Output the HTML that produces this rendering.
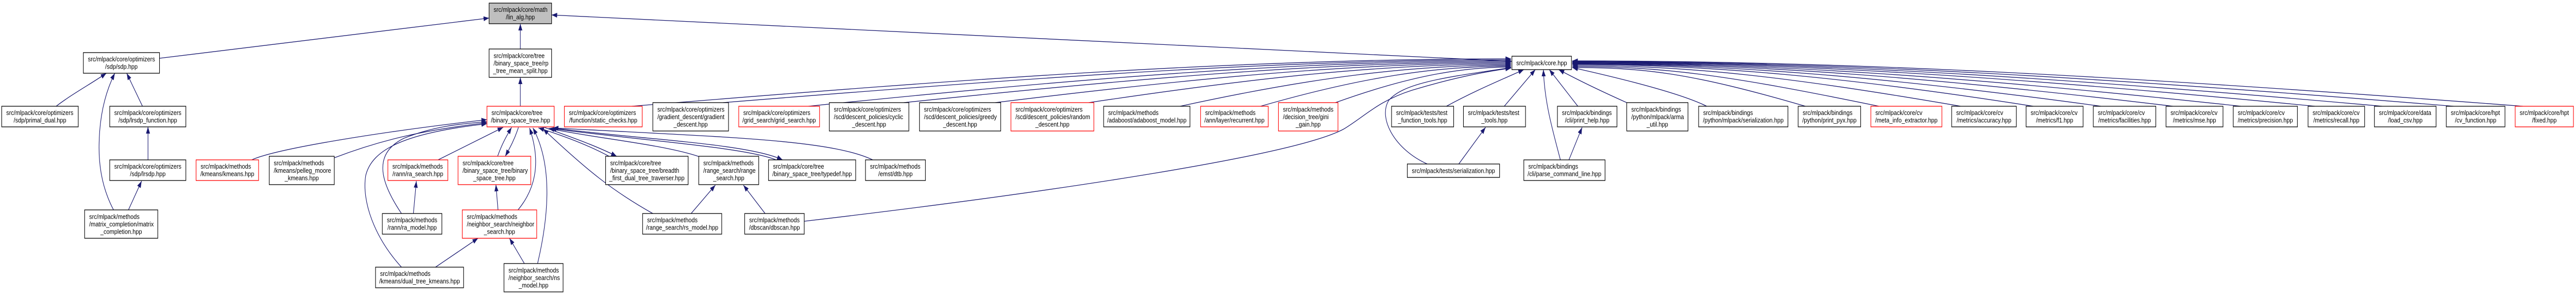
<!DOCTYPE html>
<html><head><meta charset="utf-8"><style>
html,body{margin:0;padding:0;background:#fff;width:100%;height:100%;overflow:hidden}
svg{display:block;width:100vw;height:100vh}
text{font-family:"Liberation Sans",Arial,Helvetica,sans-serif;font-size:13.33px;fill:#000}
.m{text-anchor:middle}
.n{fill:#fff;stroke:#000;stroke-width:1.33}
.r{fill:#fff;stroke:#f00;stroke-width:1.33}
.g{fill:#bfbfbf;stroke:#000;stroke-width:1.33}
.e path{fill:none;stroke:#191970;stroke-width:1.33}
</style></head><body>
<svg viewBox="0 0 6057 572" preserveAspectRatio="none" xmlns="http://www.w3.org/2000/svg">
<defs><marker id="a" markerWidth="14" markerHeight="10" refX="13" refY="4.7" orient="auto" markerUnits="userSpaceOnUse"><path d="M0,0 L13,4.7 L0,9.4 z" fill="#191970"/></marker></defs>
<g class="e">
<path d="M375,113 L1150,35" marker-end="url(#a)"/>
<path d="M1223.5,95 L1223.5,46" marker-end="url(#a)"/>
<path d="M3555,119 L1297,29" marker-end="url(#a)"/>
<path d="M1223.5,206 L1223.5,150" marker-end="url(#a)"/>
<path d="M132,206 C170,182 215,162 250,142" marker-end="url(#a)"/>
<path d="M267,407 C240,365 232,320 233,280 C234,220 250,175 270,142" marker-end="url(#a)"/>
<path d="M335,206 L298,142" marker-end="url(#a)"/>
<path d="M348,310 L348,246" marker-end="url(#a)"/>
<path d="M302,407 L333,351" marker-end="url(#a)"/>
<path d="M592,310 C650,288 900,255 1145,232" marker-end="url(#a)"/>
<path d="M786,306 C900,270 1000,252 1145,238" marker-end="url(#a)"/>
<path d="M944,414 C900,360 870,300 950,268 C1020,245 1080,240 1145,236" marker-end="url(#a)"/>
<path d="M944,518 C880,460 850,390 860,340 C875,290 950,258 1145,240" marker-end="url(#a)"/>
<path d="M1030,310 L1183,247" marker-end="url(#a)"/>
<path d="M1170,303 C1180,280 1190,265 1203,247" marker-end="url(#a)"/>
<path d="M1219,247 C1210,270 1200,285 1188,303" marker-end="url(#a)"/>
<path d="M1218,407 C1255,370 1275,320 1245,248" marker-end="url(#a)"/>
<path d="M1264,511 C1290,420 1300,320 1253,248" marker-end="url(#a)"/>
<path d="M1535,414 C1440,370 1380,330 1277,250" marker-end="url(#a)"/>
<path d="M1432,303 C1380,280 1320,262 1266,248" marker-end="url(#a)"/>
<path d="M1280,247 C1340,265 1400,282 1450,303" marker-end="url(#a)"/>
<path d="M1645,304 C1560,280 1400,268 1290,249" marker-end="url(#a)"/>
<path d="M1825,310 C1750,285 1500,272 1295,249" marker-end="url(#a)"/>
<path d="M1298,248 C1500,270 1760,278 1840,310" marker-end="url(#a)"/>
<path d="M2052,310 C1950,270 1700,266 1300,248" marker-end="url(#a)"/>
<path d="M1625,414 L1682,359" marker-end="url(#a)"/>
<path d="M1799,414 L1748,359" marker-end="url(#a)"/>
<path d="M1171,407 L1166,358" marker-end="url(#a)"/>
<path d="M972,414 L979,351" marker-end="url(#a)"/>
<path d="M1024,518 L1124,462" marker-end="url(#a)"/>
<path d="M1233,511 L1198,462" marker-end="url(#a)"/>
<path d="M1891,429 C2500,370 3050,300 3160,250 C3210,225 3240,196 3320,175 C3400,155 3480,140 3553,132" marker-end="url(#a)"/>
<path d="M3356,318 C3280,290 3240,230 3265,195 C3300,160 3400,150 3553,131" marker-end="url(#a)"/>
<path d="M3430,318 L3493,247" marker-end="url(#a)"/>
<path d="M3669,310 C3650,250 3632,200 3629,135" marker-end="url(#a)"/>
<path d="M3689,310 L3720,247" marker-end="url(#a)"/>
<path d="M3401,206 C3470,175 3530,155 3583,135" marker-end="url(#a)"/>
<path d="M3537,206 L3610,135" marker-end="url(#a)"/>
<path d="M3710,206 L3643,135" marker-end="url(#a)"/>
<path d="M3825,199 C3760,175 3710,155 3665,135" marker-end="url(#a)"/>
<path d="M4013,206 C3950,180 3800,150 3697,131" marker-end="url(#a)"/>
<path d="M1486,206 C2313,150 2933,114 3553,114" marker-end="url(#a)"/>
<path d="M1700,199 C2441,150 2997,116 3553,116" marker-end="url(#a)"/>
<path d="M1901,206 C2562,150 3057,118 3553,118" marker-end="url(#a)"/>
<path d="M2125,199 C2696,150 3125,120 3553,120" marker-end="url(#a)"/>
<path d="M2340,199 C2825,150 3189,122 3553,122" marker-end="url(#a)"/>
<path d="M2560,199 C2957,150 3255,124 3553,124" marker-end="url(#a)"/>
<path d="M2775,206 C3086,150 3320,126 3553,126" marker-end="url(#a)"/>
<path d="M2964,206 C3200,150 3376,128 3553,128" marker-end="url(#a)"/>
<path d="M3140,199 C3305,150 3429,130 3553,130" marker-end="url(#a)"/>
<path d="M4245,206 C3971,140 3861,131 3697,131" marker-end="url(#a)"/>
<path d="M4418,206 C4058,145 3913,129 3697,129" marker-end="url(#a)"/>
<path d="M4610,206 C4200,148 3971,127 3697,127" marker-end="url(#a)"/>
<path d="M4781,206 C4347,150 4022,125 3697,125" marker-end="url(#a)"/>
<path d="M4940,206 C4443,150 4070,124 3697,124" marker-end="url(#a)"/>
<path d="M5109,206 C4544,150 4121,123 3697,123" marker-end="url(#a)"/>
<path d="M5269,206 C4640,150 4169,122 3697,122" marker-end="url(#a)"/>
<path d="M5443,206 C4745,150 4221,121 3697,121" marker-end="url(#a)"/>
<path d="M5601,206 C4839,150 4268,120 3697,120" marker-end="url(#a)"/>
<path d="M5769,206 C4940,150 4319,119 3697,119" marker-end="url(#a)"/>
<path d="M5932,206 C5038,150 4368,118 3697,118" marker-end="url(#a)"/>
</g>

<!-- Row 0 -->
<rect class="g" x="1150" y="6" width="147" height="40"/>
<text x="1160.7" y="23.25">src/mlpack/core/math</text><text class="m" x="1223.5" y="37.75">/lin_alg.hpp</text>

<!-- Row 1 -->
<rect class="n" x="196" y="102" width="179" height="40"/>
<text x="206.7" y="119.25">src/mlpack/core/optimizers</text><text class="m" x="285.5" y="133.75">/sdp/sdp.hpp</text>
<rect class="n" x="1150" y="95" width="147" height="55"/>
<text x="1160.7" y="112.5">src/mlpack/core/tree</text><text x="1160.7" y="127">/binary_space_tree/rp</text><text class="m" x="1223.5" y="141.5">_tree_mean_split.hpp</text>
<rect class="n" x="3555" y="109" width="140" height="26"/>
<text class="m" x="3625" y="126.5">src/mlpack/core.hpp</text>

<!-- Row 2 -->
<rect class="n" x="4" y="206" width="180" height="40"/>
<text x="14.7" y="223.25">src/mlpack/core/optimizers</text><text class="m" x="94" y="237.75">/sdp/primal_dual.hpp</text>
<rect class="n" x="258" y="206" width="179" height="40"/>
<text x="268.7" y="223.25">src/mlpack/core/optimizers</text><text class="m" x="347.5" y="237.75">/sdp/lrsdp_function.hpp</text>
<rect class="r" x="1145" y="206" width="158" height="40"/>
<text x="1155.7" y="223.25">src/mlpack/core/tree</text><text class="m" x="1224" y="237.75">/binary_space_tree.hpp</text>
<rect class="r" x="1327" y="206" width="183" height="40"/>
<text x="1337.7" y="223.25">src/mlpack/core/optimizers</text><text class="m" x="1418.5" y="237.75">/function/static_checks.hpp</text>
<rect class="n" x="1535" y="199" width="178" height="55"/>
<text x="1545.7" y="216.5">src/mlpack/core/optimizers</text><text x="1545.7" y="231">/gradient_descent/gradient</text><text class="m" x="1624" y="245.5">_descent.hpp</text>
<rect class="r" x="1737" y="206" width="190" height="40"/>
<text x="1747.7" y="223.25">src/mlpack/core/optimizers</text><text class="m" x="1832" y="237.75">/grid_search/grid_search.hpp</text>
<rect class="n" x="1950" y="199" width="187" height="55"/>
<text x="1960.7" y="216.5">src/mlpack/core/optimizers</text><text x="1960.7" y="231">/scd/descent_policies/cyclic</text><text class="m" x="2043.5" y="245.5">_descent.hpp</text>
<rect class="n" x="2162" y="199" width="191" height="55"/>
<text x="2172.7" y="216.5">src/mlpack/core/optimizers</text><text x="2172.7" y="231">/scd/descent_policies/greedy</text><text class="m" x="2257.5" y="245.5">_descent.hpp</text>
<rect class="r" x="2377" y="199" width="195" height="55"/>
<text x="2387.7" y="216.5">src/mlpack/core/optimizers</text><text x="2387.7" y="231">/scd/descent_policies/random</text><text class="m" x="2474.5" y="245.5">_descent.hpp</text>
<rect class="n" x="2595" y="206" width="203" height="40"/>
<text x="2605.7" y="223.25">src/mlpack/methods</text><text class="m" x="2696.5" y="237.75">/adaboost/adaboost_model.hpp</text>
<rect class="r" x="2823" y="206" width="159" height="40"/>
<text x="2833.7" y="223.25">src/mlpack/methods</text><text class="m" x="2902.5" y="237.75">/ann/layer/recurrent.hpp</text>
<rect class="r" x="3006" y="199" width="140" height="55"/>
<text x="3016.7" y="216.5">src/mlpack/methods</text><text x="3016.7" y="231">/decision_tree/gini</text><text class="m" x="3076" y="245.5">_gain.hpp</text>
<rect class="n" x="3272" y="206" width="146" height="40"/>
<text x="3282.7" y="223.25">src/mlpack/tests/test</text><text class="m" x="3345" y="237.75">_function_tools.hpp</text>
<rect class="n" x="3441" y="206" width="146" height="40"/>
<text x="3451.7" y="223.25">src/mlpack/tests/test</text><text class="m" x="3514" y="237.75">_tools.hpp</text>
<rect class="n" x="3662" y="206" width="140" height="40"/>
<text x="3672.7" y="223.25">src/mlpack/bindings</text><text class="m" x="3732" y="237.75">/cli/print_help.hpp</text>
<rect class="n" x="3825" y="199" width="144" height="55"/>
<text x="3835.7" y="216.5">src/mlpack/bindings</text><text x="3835.7" y="231">/python/mlpack/arma</text><text class="m" x="3897" y="245.5">_util.hpp</text>
<rect class="n" x="3994" y="206" width="210" height="40"/>
<text x="4004.7" y="223.25">src/mlpack/bindings</text><text class="m" x="4099" y="237.75">/python/mlpack/serialization.hpp</text>
<rect class="n" x="4228" y="206" width="147" height="40"/>
<text x="4238.7" y="223.25">src/mlpack/bindings</text><text class="m" x="4301.5" y="237.75">/python/print_pyx.hpp</text>
<rect class="r" x="4399" y="206" width="167" height="40"/>
<text x="4409.7" y="223.25">src/mlpack/core/cv</text><text class="m" x="4482.5" y="237.75">/meta_info_extractor.hpp</text>
<rect class="n" x="4589" y="206" width="152" height="40"/>
<text x="4599.7" y="223.25">src/mlpack/core/cv</text><text class="m" x="4665" y="237.75">/metrics/accuracy.hpp</text>
<rect class="n" x="4764" y="206" width="134" height="40"/>
<text x="4774.7" y="223.25">src/mlpack/core/cv</text><text class="m" x="4831" y="237.75">/metrics/f1.hpp</text>
<rect class="n" x="4922" y="206" width="147" height="40"/>
<text x="4932.7" y="223.25">src/mlpack/core/cv</text><text class="m" x="4995.5" y="237.75">/metrics/facilities.hpp</text>
<rect class="n" x="5093" y="206" width="134" height="40"/>
<text x="5103.7" y="223.25">src/mlpack/core/cv</text><text class="m" x="5160" y="237.75">/metrics/mse.hpp</text>
<rect class="n" x="5251" y="206" width="151" height="40"/>
<text x="5261.7" y="223.25">src/mlpack/core/cv</text><text class="m" x="5326.5" y="237.75">/metrics/precision.hpp</text>
<rect class="n" x="5427" y="206" width="133" height="40"/>
<text x="5437.7" y="223.25">src/mlpack/core/cv</text><text class="m" x="5493.5" y="237.75">/metrics/recall.hpp</text>
<rect class="n" x="5583" y="206" width="145" height="40"/>
<text x="5593.7" y="223.25">src/mlpack/core/data</text><text class="m" x="5655.5" y="237.75">/load_csv.hpp</text>
<rect class="n" x="5752" y="206" width="138" height="40"/>
<text x="5762.7" y="223.25">src/mlpack/core/hpt</text><text class="m" x="5821" y="237.75">/cv_function.hpp</text>
<rect class="r" x="5914" y="206" width="137" height="40"/>
<text x="5924.7" y="223.25">src/mlpack/core/hpt</text><text class="m" x="5982.5" y="237.75">/fixed.hpp</text>

<!-- Row 3 -->
<rect class="n" x="258" y="310" width="179" height="40"/>
<text x="268.7" y="327.25">src/mlpack/core/optimizers</text><text class="m" x="347.5" y="341.75">/sdp/lrsdp.hpp</text>
<rect class="r" x="461" y="310" width="147" height="40"/>
<text x="471.7" y="327.25">src/mlpack/methods</text><text class="m" x="534.5" y="341.75">/kmeans/kmeans.hpp</text>
<rect class="n" x="633" y="303" width="153" height="55"/>
<text x="643.7" y="320.5">src/mlpack/methods</text><text x="643.7" y="335">/kmeans/pelleg_moore</text><text class="m" x="709.5" y="349.5">_kmeans.hpp</text>
<rect class="r" x="912" y="310" width="141" height="40"/>
<text x="922.7" y="327.25">src/mlpack/methods</text><text class="m" x="982.5" y="341.75">/rann/ra_search.hpp</text>
<rect class="r" x="1077" y="303" width="171" height="55"/>
<text x="1087.7" y="320.5">src/mlpack/core/tree</text><text x="1087.7" y="335">/binary_space_tree/binary</text><text class="m" x="1162.5" y="349.5">_space_tree.hpp</text>
<rect class="n" x="1424" y="303" width="194" height="55"/>
<text x="1434.7" y="320.5">src/mlpack/core/tree</text><text x="1434.7" y="335">/binary_space_tree/breadth</text><text class="m" x="1521" y="349.5">_first_dual_tree_traverser.hpp</text>
<rect class="n" x="1643" y="303" width="141" height="55"/>
<text x="1653.7" y="320.5">src/mlpack/methods</text><text x="1653.7" y="335">/range_search/range</text><text class="m" x="1713.5" y="349.5">_search.hpp</text>
<rect class="n" x="1807" y="310" width="205" height="40"/>
<text x="1817.7" y="327.25">src/mlpack/core/tree</text><text class="m" x="1909.5" y="341.75">/binary_space_tree/typedef.hpp</text>
<rect class="n" x="2035" y="310" width="141" height="40"/>
<text x="2045.7" y="327.25">src/mlpack/methods</text><text class="m" x="2105.5" y="341.75">/emst/dtb.hpp</text>
<rect class="n" x="3309" y="318" width="217" height="26"/>
<text class="m" x="3417.5" y="335.5">src/mlpack/tests/serialization.hpp</text>
<rect class="n" x="3583" y="310" width="191" height="40"/>
<text x="3593.7" y="327.25">src/mlpack/bindings</text><text class="m" x="3678.5" y="341.75">/cli/parse_command_line.hpp</text>

<!-- Row 4 -->
<rect class="n" x="199" y="407" width="172" height="55"/>
<text x="209.7" y="424.5">src/mlpack/methods</text><text x="209.7" y="439">/matrix_completion/matrix</text><text class="m" x="285" y="453.5">_completion.hpp</text>
<rect class="n" x="899" y="414" width="140" height="40"/>
<text x="909.7" y="431.25">src/mlpack/methods</text><text class="m" x="969" y="445.75">/rann/ra_model.hpp</text>
<rect class="r" x="1087" y="407" width="175" height="55"/>
<text x="1097.7" y="424.5">src/mlpack/methods</text><text x="1097.7" y="439">/neighbor_search/neighbor</text><text class="m" x="1174.5" y="453.5">_search.hpp</text>
<rect class="n" x="1511" y="414" width="186" height="40"/>
<text x="1521.7" y="431.25">src/mlpack/methods</text><text class="m" x="1604" y="445.75">/range_search/rs_model.hpp</text>
<rect class="n" x="1751" y="414" width="140" height="40"/>
<text x="1761.7" y="431.25">src/mlpack/methods</text><text class="m" x="1821" y="445.75">/dbscan/dbscan.hpp</text>

<!-- Row 5 -->
<rect class="n" x="883" y="518" width="207" height="40"/>
<text x="893.7" y="535.25">src/mlpack/methods</text><text class="m" x="986.5" y="549.75">/kmeans/dual_tree_kmeans.hpp</text>
<rect class="n" x="1185" y="511" width="139" height="55"/>
<text x="1195.7" y="528.5">src/mlpack/methods</text><text x="1195.7" y="543">/neighbor_search/ns</text><text class="m" x="1254.5" y="557.5">_model.hpp</text>
</svg>
</body></html>
